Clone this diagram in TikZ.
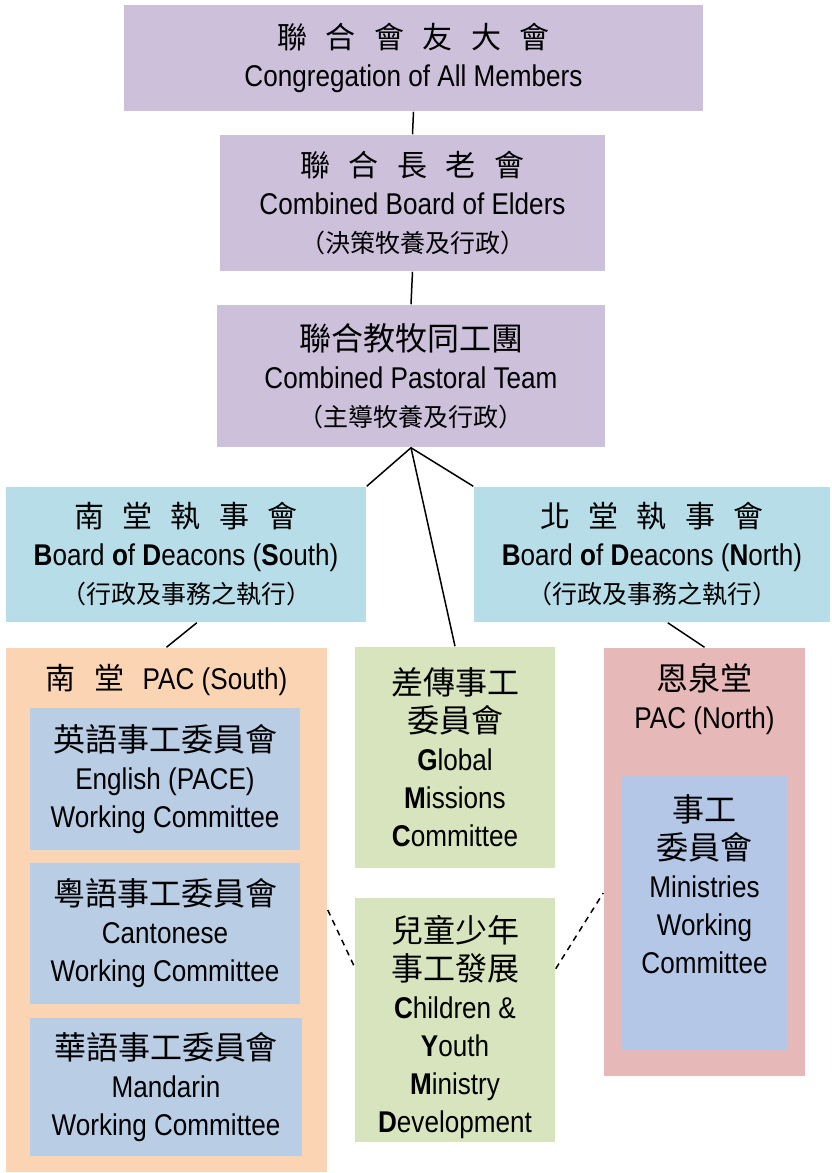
\documentclass[tikz,border=0pt]{standalone}
\usepackage{fontspec}
\setmainfont{Liberation Sans}[FakeStretch=0.87]
\newfontfamily\cjkfont{Noto Sans CJK TC}
\newcommand{\zh}[1]{{\fontsize{32}{38}\cjkfont #1}}
\newcommand{\zhh}[1]{{\fontsize{30}{38}\cjkfont #1}}
\newcommand{\zhs}[1]{{\fontsize{25}{38}\cjkfont #1}}
\newcommand{\gp}{\hspace{18.5pt}}
\definecolor{lav}{HTML}{CCC0DA}
\definecolor{teal}{HTML}{B7DEE8}
\definecolor{peach}{HTML}{FBD4B4}
\definecolor{slate}{HTML}{B9CDE5}
\definecolor{sage}{HTML}{D7E4BD}
\definecolor{rose}{HTML}{E6B9B8}
\definecolor{peri}{HTML}{B4C7E7}

\begin{document}
\begin{tikzpicture}[x=1pt, y=-1pt, line width=1.5pt]
	\tikzstyle{every node}=[align=center, inner sep=0pt, font=\fontsize{30}{38}\selectfont]
	\tikzstyle{box}=[rectangle, draw=none]
	\useasboundingbox (0,0) rectangle (831,1173);

		% governing boards
		\node[box, fill=lav, minimum width=579pt, minimum height=106pt] (cong) at (413.5,58)
			{\zhh{聯\gp 合\gp 會\gp 友\gp 大\gp 會}\\Congregation of All Members};
		\node[box, fill=lav, minimum width=385pt, minimum height=136pt] (elders) at (412.5,203)
			{\zhh{聯\gp 合\gp 長\gp 老\gp 會}\\Combined Board of Elders\\\zhs{（決策牧養及行政）}};
		\node[box, fill=lav, minimum width=388pt, minimum height=142pt] (pastoral) at (411,376)
			{\zh{聯合教牧同工團}\\Combined Pastoral Team\\\zhs{（主導牧養及行政）}};
		\node[box, fill=teal, minimum width=360pt, minimum height=135pt] (bdS) at (186,554.5)
			{\zhh{南\gp 堂\gp 執\gp 事\gp 會}\\\textbf{B}oard \textbf{o}f \textbf{D}eacons (\textbf{S}outh)\\\zhs{（行政及事務之執行）}};
		\node[box, fill=teal, minimum width=356pt, minimum height=135pt] (bdN) at (652,554.5)
			{\zhh{北\gp 堂\gp 執\gp 事\gp 會}\\\textbf{B}oard \textbf{o}f \textbf{D}eacons (\textbf{N}orth)\\\zhs{（行政及事務之執行）}};

		% south PAC
		\node[box, fill=peach, minimum width=321pt, minimum height=524pt] (pacS) at (166.5,910) {};
		\node (pacStitle) at (166.5,680) {\zhh{南\gp 堂\gp{}}PAC (South)};
		\node[box, fill=slate, minimum width=270pt, minimum height=142pt] (wcE) at (165,779)
			{\zh{英語事工委員會}\\English (PACE)\\Working Committee};
		\node[box, fill=slate, minimum width=270pt, minimum height=141pt] (wcC) at (165,933.5)
			{\zh{粵語事工委員會}\\Cantonese\\Working Committee};
		\node[box, fill=slate, minimum width=272pt, minimum height=138pt] (wcM) at (166,1087)
			{\zh{華語事工委員會}\\Mandarin\\Working Committee};

		% joint committees
		\node[box, fill=sage, minimum width=200pt, minimum height=221pt] (gm) at (455,757.5)
			{\zh{差傳事工}\\\zh{委員會}\\\textbf{G}lobal\\\textbf{M}issions\\\textbf{C}ommittee};
		\node[box, fill=sage, minimum width=200pt, minimum height=244pt] (gcy) at (455,1020) {};
		\node (gcytext) at (455,1027)
			{\zh{兒童少年}\\\zh{事工發展}\\\textbf{C}hildren \&\\\textbf{Y}outh\\\textbf{M}inistry\\\textbf{D}evelopment};

		% north PAC
		\node[box, fill=rose, minimum width=201pt, minimum height=428pt] (pacN) at (704.5,862) {};
		\node (pacNtitle) at (704.5,699) {\zh{恩泉堂}\\PAC (North)};
		\node[box, fill=peri, minimum width=165pt, minimum height=274pt] (mwc) at (704.5,913) {};
		\node (mwctext) at (704.5,884) {\zh{事工}\\\zh{委員會}\\Ministries\\Working\\Committee};

		\draw (cong.south) -- (elders.north);
		\draw (elders.south) -- (pastoral.north);
		\draw (pastoral.south) -- (bdS.north east);
		\draw (pastoral.south) -- (gm.north);
		\draw (pastoral.south) -- (bdN.north west);
		\draw (bdS.-81) -- (pacS.north);
		\draw (bdN.-77) -- (pacN.north);
		\draw[dash pattern=on 6pt off 5pt] (pacS.east) -- (gcy.152.5);
		\draw[dash pattern=on 6pt off 5pt] (gcy.27.5) -- (pacN.197);
	\end{tikzpicture}
\end{document}
